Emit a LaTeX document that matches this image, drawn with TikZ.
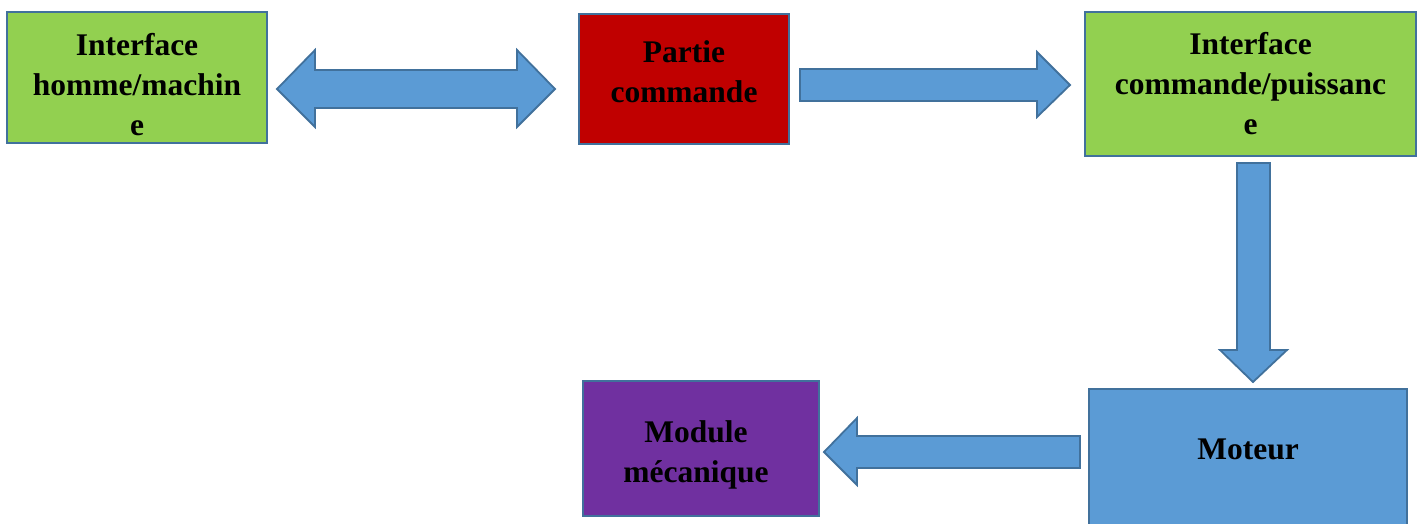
\documentclass[tikz,border=0pt]{standalone}
\usepackage{fontspec}
\setmainfont{Liberation Serif}
\begin{document}
\begin{tikzpicture}[x=1pt,y=-1pt,
  edgeblue/.style={draw=bordercol,line width=1.8pt},
  block/.style={edgeblue,rectangle},
  lbl/.style={font=\bfseries\fontsize{31.5}{40}\selectfont,align=center,inner sep=0pt,text=black},
  barrow/.style={edgeblue,fill=arrowcol,line join=miter}]
\definecolor{bordercol}{HTML}{41719C}
\definecolor{arrowcol}{HTML}{5B9BD5}
\definecolor{greenfill}{HTML}{92D050}
\definecolor{redfill}{HTML}{C00000}
\definecolor{purplefill}{HTML}{7030A0}
\useasboundingbox (0,0) rectangle (1423,524);

% blocks
\draw[block,fill=greenfill]  (7,12)    rectangle (267,143)  coordinate (ihm);
\draw[block,fill=redfill]    (579,14)  rectangle (789,144)  coordinate (pc);
\draw[block,fill=greenfill]  (1085,12) rectangle (1416,156) coordinate (icp);
\draw[block,fill=purplefill] (583,381) rectangle (819,516)  coordinate (mm);
\draw[block,fill=arrowcol]   (1089,389) rectangle (1407,540) coordinate (mot);

% labels
\node[lbl] (tihm) at (137,85) {Interface\\homme/machin\\e};
\node[lbl] (tpc)  at (684,72)  {Partie\\commande};
\node[lbl] (ticp) at (1250.5,84) {Interface\\commande/puissanc\\e};
\node[lbl] (tmm)  at (696,455) {Module\\mécanique};
\node[lbl] (tmot) at (1248,449) {Moteur};

% block arrows
\draw[barrow] (277,89) -- (315,50) -- (315,70) -- (517,70) -- (517,50) -- (555,89)
  -- (517,127) -- (517,108) -- (315,108) -- (315,127) -- cycle;
\draw[barrow] (800,69) -- (1037,69) -- (1037,52) -- (1070,85) -- (1037,117)
  -- (1037,101) -- (800,101) -- cycle;
\draw[barrow] (1237,163) -- (1270,163) -- (1270,350) -- (1287,350) -- (1253,382)
  -- (1220,350) -- (1237,350) -- cycle;
\draw[barrow] (1080,436) -- (857,436) -- (857,418) -- (824,452) -- (857,485)
  -- (857,468) -- (1080,468) -- cycle;
\end{tikzpicture}
\end{document}
